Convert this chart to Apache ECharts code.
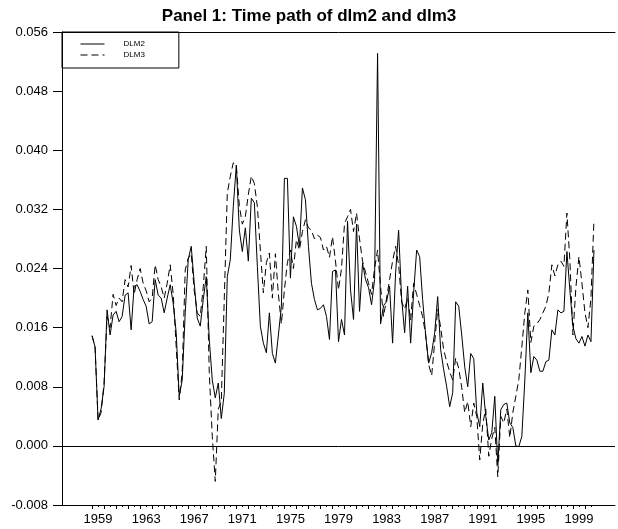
<!DOCTYPE html>
<html>
<head>
<meta charset="utf-8">
<script src="https://cdn.jsdelivr.net/npm/echarts@6/dist/echarts.min.js"></script>
<style>
html,body{margin:0;padding:0;background:#fff;}
#chart{width:618px;height:529px;}
</style>
</head>
<body>
<div id="chart"></div>
<script>
// Quarterly data, 1959Q1 .. 2000Q4
const startYear = 1959;
const periodsPerYear = 4;
const seriesNames = ['DLM2', 'DLM3'];
const yearLabels = [1959, 1963, 1967, 1971, 1975, 1979, 1983, 1987, 1991, 1995, 1999];
const yTicks = [-0.008, 0.000, 0.008, 0.016, 0.024, 0.032, 0.040, 0.048, 0.056];

const dlm2 = [
  0.0149, 0.0134, 0.0035, 0.0050, 0.0080, 0.0184, 0.0150, 0.0177, 0.0182, 0.0168,
  0.0175, 0.0204, 0.0207, 0.0157, 0.0216, 0.0218, 0.0209, 0.0198, 0.0189, 0.0165,
  0.0168, 0.0225, 0.0204, 0.0200, 0.0180, 0.0200, 0.0218, 0.0193, 0.0153, 0.0067,
  0.0089, 0.0180, 0.0252, 0.0270, 0.0220, 0.0173, 0.0162, 0.0198, 0.0229, 0.0144,
  0.0089, 0.0065, 0.0085, 0.0037, 0.0071, 0.0229, 0.0252, 0.0324, 0.0380, 0.0292,
  0.0263, 0.0295, 0.0250, 0.0335, 0.0329, 0.0243, 0.0162, 0.0139, 0.0126, 0.0180,
  0.0125, 0.0112, 0.0150, 0.0189, 0.0362, 0.0362, 0.0227, 0.0310, 0.0297, 0.0270,
  0.0349, 0.0333, 0.0270, 0.0220, 0.0198, 0.0184, 0.0186, 0.0191, 0.0175, 0.0144,
  0.0236, 0.0238, 0.0141, 0.0171, 0.0150, 0.0304, 0.0211, 0.0171, 0.0300, 0.0182,
  0.0247, 0.0225, 0.0214, 0.0191, 0.0225, 0.0531, 0.0165, 0.0190, 0.0195, 0.0216,
  0.0139, 0.0234, 0.0292, 0.0200, 0.0153, 0.0216, 0.0139, 0.0207, 0.0265, 0.0256,
  0.0198, 0.0150, 0.0112, 0.0126, 0.0153, 0.0202, 0.0130, 0.0103, 0.0080, 0.0053,
  0.0072, 0.0195, 0.0189, 0.0150, 0.0107, 0.0080, 0.0125, 0.0118, 0.0045, 0.0026,
  0.0085, 0.0040, 0.0008, 0.0018, 0.0067, -0.0026, 0.0049, 0.0056, 0.0058, 0.0031,
  0.0025, 0.0000, -0.0001, 0.0013, 0.0089, 0.0180, 0.0099, 0.0121, 0.0116, 0.0101,
  0.0101, 0.0114, 0.0116, 0.0157, 0.0150, 0.0184, 0.0180, 0.0182, 0.0263, 0.0210,
  0.0162, 0.0145, 0.0139, 0.0148, 0.0135, 0.0150, 0.0141, 0.0265
];

const dlm3 = [
  0.0149, 0.0134, 0.0035, 0.0045, 0.0085, 0.0175, 0.0160, 0.0205, 0.0190, 0.0200,
  0.0195, 0.0225, 0.0215, 0.0244, 0.0205, 0.0225, 0.0240, 0.0220, 0.0210, 0.0195,
  0.0200, 0.0245, 0.0225, 0.0215, 0.0200, 0.0220, 0.0245, 0.0205, 0.0134, 0.0062,
  0.0100, 0.0238, 0.0254, 0.0260, 0.0210, 0.0180, 0.0175, 0.0215, 0.0270, 0.0099,
  0.0013, -0.0048, 0.0050, 0.0060, 0.0200, 0.0342, 0.0365, 0.0383, 0.0380, 0.0325,
  0.0300, 0.0310, 0.0340, 0.0365, 0.0355, 0.0324, 0.0265, 0.0207, 0.0248, 0.0261,
  0.0200, 0.0260, 0.0205, 0.0165, 0.0211, 0.0248, 0.0265, 0.0240, 0.0279, 0.0265,
  0.0290, 0.0306, 0.0295, 0.0292, 0.0280, 0.0285, 0.0282, 0.0265, 0.0270, 0.0255,
  0.0283, 0.0250, 0.0211, 0.0240, 0.0301, 0.0310, 0.0320, 0.0290, 0.0315, 0.0280,
  0.0250, 0.0235, 0.0220, 0.0205, 0.0240, 0.0265, 0.0215, 0.0175, 0.0200, 0.0225,
  0.0250, 0.0270, 0.0245, 0.0195, 0.0185, 0.0200, 0.0170, 0.0220, 0.0205, 0.0190,
  0.0175, 0.0150, 0.0110, 0.0095, 0.0140, 0.0185, 0.0160, 0.0130, 0.0114, 0.0100,
  0.0089, 0.0119, 0.0105, 0.0079, 0.0045, 0.0060, 0.0026, 0.0058, 0.0040, -0.0019,
  0.0030, 0.0050, -0.0014, 0.0010, 0.0025, -0.0042, 0.0040, 0.0031, 0.0050, 0.0011,
  0.0045, 0.0067, 0.0090, 0.0134, 0.0180, 0.0211, 0.0140, 0.0162, 0.0165, 0.0171,
  0.0180, 0.0189, 0.0207, 0.0245, 0.0230, 0.0245, 0.0250, 0.0243, 0.0315, 0.0250,
  0.0150, 0.0215, 0.0256, 0.0220, 0.0180, 0.0160, 0.0200, 0.0306
];

function toPairs(values) {
  return values.map((v, i) => [startYear + i / periodsPerYear, v]);
}

const lastX = startYear + (dlm2.length - 1) / periodsPerYear;
const yearTicks = [];
const halfTicks = [];
for (let y = startYear; y <= lastX + 0.01; y += 0.5) {
  if (Number.isInteger(y)) yearTicks.push(y); else halfTicks.push(y);
}
const labelValues = yearLabels.map(y => y + 0.5);

const FONT = 'Liberation Sans, Arial, sans-serif';
const chart = echarts.init(document.getElementById('chart'), null, {renderer: 'canvas'});

const xMin = 1956.5, xMax = 2002.5;

chart.setOption({
  animation: false,
  backgroundColor: '#fff',
  title: {
    text: 'Panel 1: Time path of dlm2 and dlm3',
    left: 'center',
    top: 3,
    textStyle: {fontFamily: FONT, fontSize: 17, fontWeight: 'bold', color: '#000'}
  },
  legend: {
    orient: 'vertical',
    left: 62,
    top: 32,
    padding: [8, 34, 9, 18],
    itemWidth: 24,
    itemHeight: 10,
    itemGap: 3,
    borderColor: '#000',
    borderWidth: 1,
    borderRadius: 0,
    itemStyle: {opacity: 0},
    lineStyle: {color: '#000', width: 1},
    textStyle: {fontFamily: FONT, fontSize: 8, color: '#000', padding: [0, 0, 0, 14]},
    data: seriesNames
  },
  grid: {left: 62, right: 3, top: 32, bottom: 24, containLabel: false},
  xAxis: [
    {
      type: 'value', min: xMin, max: xMax, position: 'bottom',
      axisLine: {show: true, onZero: false, lineStyle: {color: '#000', width: 1}},
      axisTick: {show: true, length: 4, inside: false, customValues: yearTicks, lineStyle: {color: '#000'}},
      axisLabel: {show: true, customValues: labelValues, margin: 8,
        formatter: v => String(Math.floor(v)),
        fontFamily: FONT, fontSize: 13, color: '#000'},
      splitLine: {show: false}
    },
    {
      type: 'value', min: xMin, max: xMax, position: 'bottom',
      axisLine: {show: false, onZero: false},
      axisTick: {show: true, length: 2, customValues: halfTicks, lineStyle: {color: '#000'}},
      axisLabel: {show: false},
      splitLine: {show: false}
    },
    {
      type: 'value', min: xMin, max: xMax, position: 'top',
      axisLine: {show: true, onZero: false, lineStyle: {color: '#000', width: 1}},
      axisTick: {show: false}, axisLabel: {show: false}, splitLine: {show: false}
    }
  ],
  yAxis: {
    type: 'value', min: yTicks[0], max: yTicks[yTicks.length - 1], interval: 0.008,
    axisLine: {show: true, onZero: false, lineStyle: {color: '#000', width: 1}},
    axisTick: {show: true, length: 9, lineStyle: {color: '#000'}},
    axisLabel: {margin: 14, fontFamily: FONT, fontSize: 13, color: '#000',
      formatter: v => v.toFixed(3)},
    splitLine: {show: false}
  },
  series: [
    {
      name: seriesNames[0], type: 'line', xAxisIndex: 0, data: toPairs(dlm2),
      symbol: 'none', showSymbol: false,
      lineStyle: {color: '#000', width: 1, type: 'solid'},
      itemStyle: {color: '#000'},
      markLine: {
        silent: true, symbol: 'none', label: {show: false},
        lineStyle: {color: '#000', width: 1, type: 'solid'},
        data: [{yAxis: 0}]
      }
    },
    {
      name: seriesNames[1], type: 'line', xAxisIndex: 0, data: toPairs(dlm3),
      symbol: 'none', showSymbol: false,
      lineStyle: {color: '#000', width: 1, type: [7, 4]},
      itemStyle: {color: '#000'}
    }
  ]
});
</script>
</body>
</html>
